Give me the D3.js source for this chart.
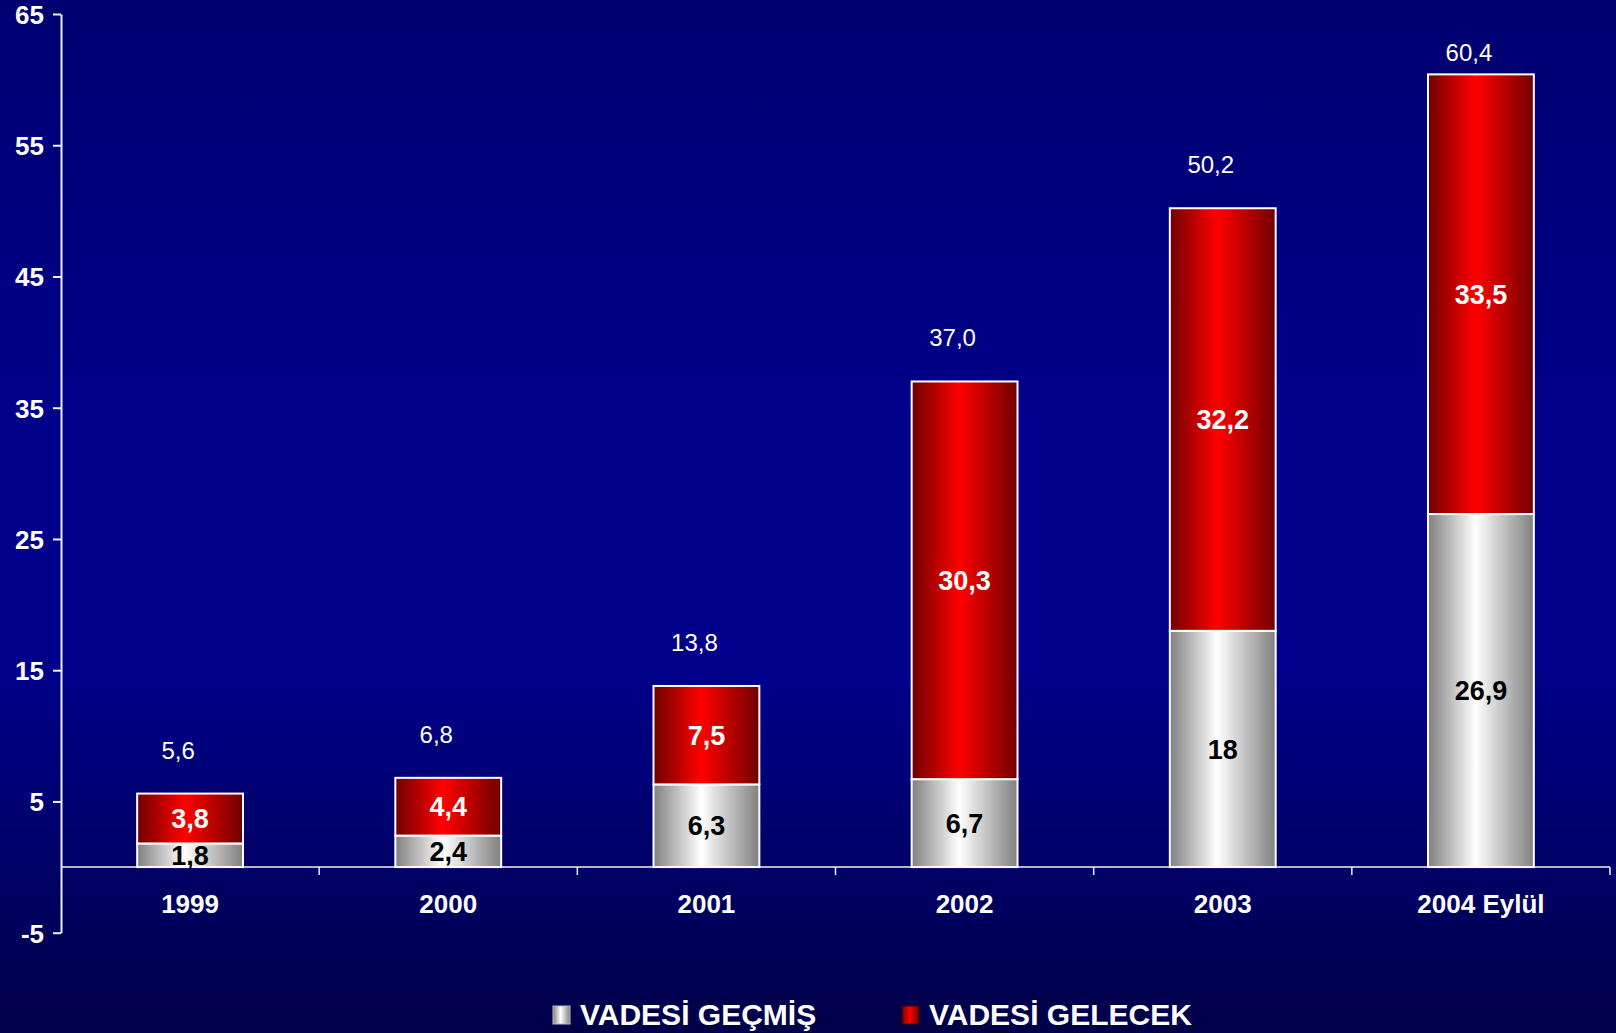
<!DOCTYPE html>
<html lang="tr">
<head>
<meta charset="UTF-8">
<title>Vadesi Geçmiş / Vadesi Gelecek</title>
<style>
    html, body { margin: 0; padding: 0; background: #000060; }
    svg { display: block; font-family: "Liberation Sans", Arial, sans-serif; }
    .eksen line, .eksen path { stroke: #f0f0f0; }
    .eksen text { fill: #fff; font-weight: bold; }
</style>
<script src="https://cdn.jsdelivr.net/npm/d3@7/dist/d3.min.js"></script>
</head>
<body>
<svg id="grafik" width="1616" height="1033"></svg>
<script>
const kategoriler = ['1999', '2000', '2001', '2002', '2003', '2004 Eylül'];
const vadesiGecmis = [1.8, 2.4, 6.3, 6.7, 18, 26.9];
const vadesiGelecek = [3.8, 4.4, 7.5, 30.3, 32.2, 33.5];
const toplamlar = [5.6, 6.8, 13.8, 37.0, 50.2, 60.4];
const yTikler = [-5, 5, 15, 25, 35, 45, 55, 65];
const seriler = ['VADESİ GEÇMİŞ', 'VADESİ GELECEK'];

const W = 1616, H = 1033;
const svg = d3.select('#grafik');
const defs = svg.append('defs');

// arka plan
const bg = defs.append('linearGradient').attr('id', 'bg')
    .attr('x1', 0).attr('y1', 0).attr('x2', 0).attr('y2', 1);
[[0, '#000070'], [0.4, '#00008a'], [0.65, '#00008a'], [1, '#000048']]
    .forEach(([o, c]) => bg.append('stop').attr('offset', o).attr('stop-color', c));
svg.append('rect').attr('width', W).attr('height', H).attr('fill', 'url(#bg)');

function yatayGradyan(id, kenar, orta) {
    const g = defs.append('linearGradient').attr('id', id)
        .attr('x1', 0).attr('y1', 0).attr('x2', 1).attr('y2', 0);
    g.append('stop').attr('offset', 0).attr('stop-color', kenar);
    g.append('stop').attr('offset', 0.45).attr('stop-color', orta);
    g.append('stop').attr('offset', 1).attr('stop-color', kenar);
}
yatayGradyan('gri', '#808080', '#ffffff');
yatayGradyan('kirmizi', '#700000', '#ff0000');
const dolgu = ['url(#gri)', 'url(#kirmizi)'];
const yaziRengi = ['#000', '#fff'];

const x = d3.scaleBand().domain(kategoriler).range([61, 1610]).padding(0);
const y = d3.scaleLinear().domain([-5, 65]).range([932.7, 14]);
const barW = x.bandwidth() * 0.41;

// y ekseni
const yEksen = svg.append('g').attr('class', 'eksen')
    .attr('transform', 'translate(61,0)')
    .call(d3.axisLeft(y).tickValues(yTikler).tickSize(8).tickPadding(9)
        .tickSizeOuter(0).tickFormat(d => String(d)));
yEksen.select('.domain').attr('stroke-width', 2);
yEksen.selectAll('.tick line').attr('stroke-width', 2);
yEksen.selectAll('text').style('font-size', '26px').attr('dy', '0.36em');

// x ekseni (sıfır çizgisi)
const xEksen = svg.append('g').attr('class', 'eksen')
    .attr('transform', `translate(0,${y(0)})`);
xEksen.append('line').attr('x1', 61).attr('x2', 1610)
    .attr('stroke-width', 1.5);
const sinirlar = kategoriler.map(k => x(k) + x.bandwidth());
xEksen.selectAll('.sinir').data(sinirlar).enter().append('line')
    .attr('x1', d => d).attr('x2', d => d).attr('y1', 0).attr('y2', 8)
    .attr('stroke-width', 1.5);
xEksen.selectAll('.kat').data(kategoriler).enter().append('text')
    .attr('x', d => x(d) + x.bandwidth() / 2).attr('y', 46)
    .attr('text-anchor', 'middle').style('font-size', '26px')
    .text(d => d);

// yığılmış çubuklar
const tablo = kategoriler.map((k, i) => ({ kat: k, gecmis: vadesiGecmis[i], gelecek: vadesiGelecek[i] }));
const yigin = d3.stack().keys(['gecmis', 'gelecek'])(tablo);
const virgul = v => String(v).replace('.', ',');

yigin.forEach((seri, si) => {
    const g = svg.append('g');
    g.selectAll('rect').data(seri).enter().append('rect')
        .attr('x', d => x(d.data.kat) + (x.bandwidth() - barW) / 2)
        .attr('width', barW)
        .attr('y', d => y(d[1]))
        .attr('height', d => y(d[0]) - y(d[1]))
        .attr('fill', dolgu[si])
        .attr('stroke', '#fff').attr('stroke-width', 2);
    g.selectAll('text').data(seri).enter().append('text')
        .attr('x', d => x(d.data.kat) + x.bandwidth() / 2)
        .attr('y', d => (y(d[0]) + y(d[1])) / 2)
        .attr('dy', '0.36em')
        .attr('text-anchor', 'middle')
        .style('font-size', '27px').style('font-weight', 'bold')
        .attr('fill', yaziRengi[si])
        .text(d => virgul(+(d[1] - d[0]).toFixed(1)));
});

// toplam etiketleri
svg.append('g').selectAll('text').data(toplamlar).enter().append('text')
    .attr('x', (d, i) => x(kategoriler[i]) + x.bandwidth() / 2 - 12)
    .attr('y', d => Math.max(y(d) - 35, 61))
    .attr('text-anchor', 'middle')
    .style('font-size', '24px').attr('fill', '#fff')
    .text(d => d3.format('.1f')(d).replace('.', ','));

// lejant
const lejant = svg.append('g');
const lejantX = [553, 902];
seriler.forEach((s, i) => {
    lejant.append('rect').attr('x', lejantX[i]).attr('y', 1006)
        .attr('width', 17).attr('height', 18)
        .attr('fill', dolgu[i]).attr('stroke', i ? '#400000' : '#bbb').attr('stroke-width', 1);
    lejant.append('text').attr('x', lejantX[i] + 27).attr('y', 1025)
        .style('font-size', '30px').style('font-weight', 'bold')
        .attr('fill', '#fff').text(s);
});
</script>
</body>
</html>
